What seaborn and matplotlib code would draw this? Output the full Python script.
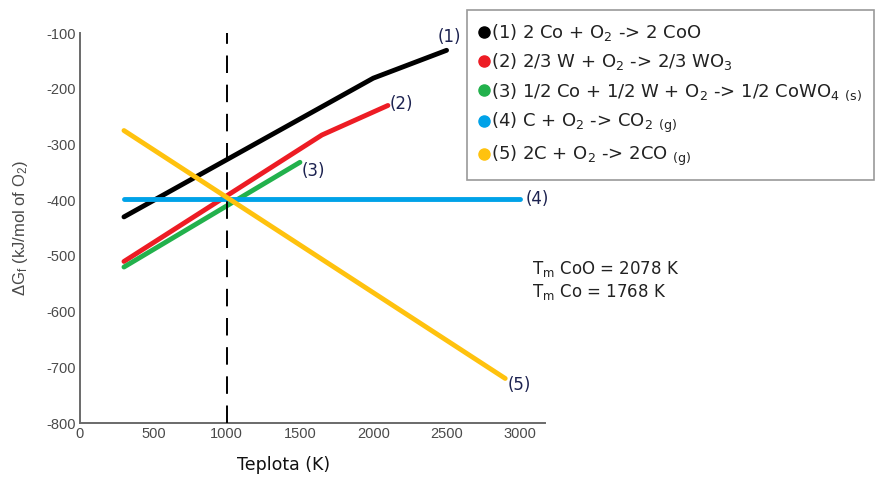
import matplotlib
matplotlib.use("Agg")
import matplotlib.pyplot as plt
from matplotlib.lines import Line2D
import pandas as pd
import seaborn as sns

# Ellingham-type data: Gibbs energy of formation per mol O2 vs temperature
reactions = [
    "(1) 2 Co + O$_2$ -> 2 CoO",
    "(2) 2/3 W + O$_2$ -> 2/3 WO$_3$",
    "(3) 1/2 Co + 1/2 W + O$_2$ -> 1/2 CoWO$_4$ $_{(s)}$",
    "(4) C + O$_2$ -> CO$_2$ $_{(g)}$",
    "(5) 2C + O$_2$ -> 2CO $_{(g)}$",
]
tags = ["(1)", "(2)", "(3)", "(4)", "(5)"]

t_1 = [300, 2000, 2500]
g_1 = [-430, -181, -131]
t_2 = [300, 1650, 2100]
g_2 = [-510, -283, -230]
t_3 = [300, 1500]
g_3 = [-520, -332]
t_4 = [300, 3000]
g_4 = [-397, -397]
t_5 = [300, 2900]
g_5 = [-275, -720]

temps = [t_1, t_2, t_3, t_4, t_5]
gibbs = [g_1, g_2, g_3, g_4, g_5]

colors = ["#000000", "#ed1c24", "#22b14c", "#00a2e8", "#ffc20e"]

x_ticks = [0, 500, 1000, 1500, 2000, 2500, 3000]
y_ticks = [-800, -700, -600, -500, -400, -300, -200, -100]
t_ref = 1000
melting_notes = ["T$_m$ CoO = 2078 K", "T$_m$ Co = 1768 K"]

rows = []
for name, ts, gs in zip(reactions, temps, gibbs):
    for t, g in zip(ts, gs):
        rows.append({"T": t, "G": g, "reaction": name})
df = pd.DataFrame(rows)

sns.set_theme(style="white")
plt.rcParams["font.family"] = ["DejaVu Sans"]
plt.rcParams["mathtext.default"] = "regular"
plt.rcParams["axes.unicode_minus"] = False

fig = plt.figure(figsize=(8.77, 4.86), dpi=100)
ax = fig.add_axes([0.0912, 0.1296, 0.530, 0.8024])

sns.lineplot(data=df, x="T", y="G", hue="reaction", hue_order=reactions,
             palette=colors, linewidth=3.5, legend=False, ax=ax,
             estimator=None, sort=False)

ax.axvline(t_ref, color="black", linewidth=1.4, dashes=(9, 6), zorder=5)

ax.set_xlim(0, 3170)
ax.set_ylim(-800, -100)
ax.set_xticks(x_ticks)
ax.set_yticks(y_ticks)
ax.tick_params(axis="both", length=0, labelsize=10.5, labelcolor="#4a4a4a", pad=3)
for lab in ax.get_xticklabels() + ax.get_yticklabels():
    lab.set_fontfamily("Liberation Sans")
for s in ["top", "right"]:
    ax.spines[s].set_visible(False)
for s in ["left", "bottom"]:
    ax.spines[s].set_color("#6a6a6a")
    ax.spines[s].set_linewidth(1.4)

ax.set_xlabel("Teplota (K)", fontsize=12.5, color="#111111")
ax.xaxis.set_label_coords(0.437, -0.085)
ax.set_ylabel("ΔG$_f$ (kJ/mol of O$_2$)", fontsize=12, color="#4a4a4a",
              family="Liberation Sans")
ax.yaxis.set_label_coords(-0.108, 0.5)

# end-of-line tags: (dx, dy, ha, va) in points
tag_color = "#1c2250"
tag_offsets = [(2, 3, "center", "bottom"), (1, 1, "left", "center"),
               (1, -6, "left", "center"), (4, 0, "left", "center"),
               (2, -5, "left", "center")]
for tag, ts, gs, (dx, dy, ha, va) in zip(tags, temps, gibbs, tag_offsets):
    ax.annotate(tag, (ts[-1], gs[-1]), xytext=(dx, dy), textcoords="offset points",
                fontsize=12, color=tag_color, ha=ha, va=va)

fig.text(0.607, 0.378, "\n".join(melting_notes), fontsize=12, color="#222222",
         ha="left", va="bottom", linespacing=1.2)

handles = [Line2D([], [], color=c, marker="o", linestyle="none", markersize=8)
           for c in colors]
leg = fig.legend(handles, reactions, loc="upper left",
                 bbox_to_anchor=(0.532, 0.979), frameon=True, fancybox=False,
                 edgecolor="#808080", fontsize=13, handlelength=0.6,
                 handletextpad=0.1, borderpad=0.65, labelspacing=0.47,
                 borderaxespad=0)
leg.get_frame().set_linewidth(1.2)
for txt in leg.get_texts():
    txt.set_color("#222222")

fig.savefig("out.png", dpi=100)
